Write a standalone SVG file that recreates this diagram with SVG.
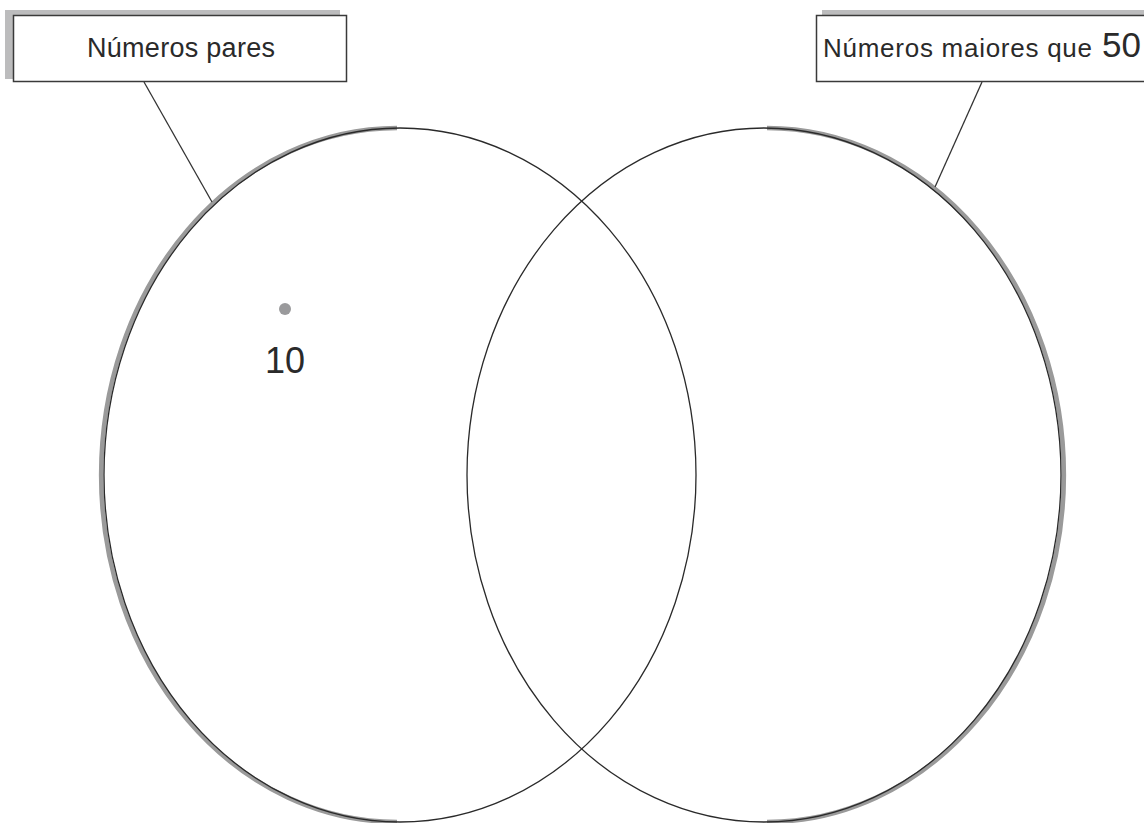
<svg xmlns="http://www.w3.org/2000/svg" width="1144" height="823" viewBox="0 0 1144 823">
<style>
.shadow{fill:#bcbcbd;stroke:none}
.box{fill:#fff;stroke:#3a3a3a;stroke-width:1.5}
.lbl{font-family:"Liberation Sans",Arial,sans-serif;fill:#2a2a2a}
.ring{fill:none;stroke:#2a2a2a;stroke-width:1.3}
.halo{fill:none;stroke:#9a9a9a;stroke-width:4.5}
.conn{stroke:#333;stroke-width:1.3;fill:none}
</style>
<rect width="1144" height="823" fill="#fff"/>
<g id="set-pares">
<path class="halo" d="M 397 128 A 296 347 0 0 0 397 822"/>
<ellipse class="ring" cx="400" cy="475" rx="296" ry="347"/>
</g>
<g id="set-maiores">
<path class="halo" d="M 767 128 A 297 347 0 0 1 767 822"/>
<ellipse class="ring" cx="764" cy="475" rx="297" ry="347"/>
</g>
<g id="connectors">
<line class="conn" x1="144" y1="82" x2="212" y2="202"/>
<line class="conn" x1="982" y1="82" x2="935" y2="187"/>
</g>
<g id="label-pares">
<rect class="shadow" x="5" y="10" width="335" height="69"/>
<rect class="box" x="13.5" y="15.5" width="333" height="66"/>
<text class="lbl" x="87" y="57" font-size="27" textLength="188" lengthAdjust="spacing">Números pares</text>
</g>
<g id="label-maiores">
<rect class="shadow" x="822" y="10" width="330" height="69"/>
<rect class="box" x="816.5" y="15.5" width="340" height="66"/>
<text class="lbl" x="823" y="57" font-size="26" textLength="269" lengthAdjust="spacing">Números maiores que</text>
<text class="lbl" x="1102" y="57" font-size="35">50</text>
</g>
<g id="element-10">
<circle cx="285" cy="309" r="6" fill="#9a9a9c"/>
<text class="lbl" x="265" y="373" font-size="36" fill="#222">10</text>
</g>
</svg>
